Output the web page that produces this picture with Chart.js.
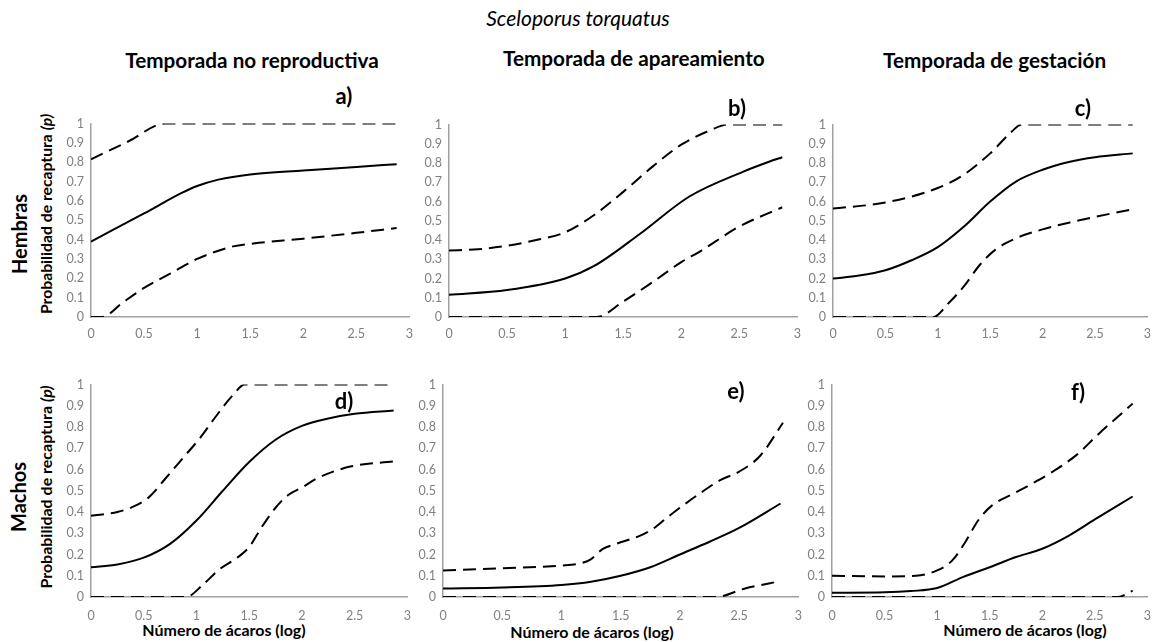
<!DOCTYPE html>
<html><head><meta charset="utf-8">
<script src="https://cdn.jsdelivr.net/npm/chart.js@4"></script>
<style>
html,body{margin:0;padding:0;background:#fff;}
#wrap{position:relative;width:1152px;height:642px;overflow:hidden;font-family:Lato,'Open Sans',sans-serif;color:#000;}
.t{position:absolute;white-space:nowrap;transform:translate(-50%,-50%);line-height:1;}
.l{transform:translate(0,-50%);}
.b{font-weight:bold;}
.r{transform:translate(-50%,-50%) rotate(-90deg);}
canvas{position:absolute;}
</style></head><body><div id="wrap">
<div class="t fit" data-w="183" style="left:578px;top:18px;font-size:17px;font-style:italic;">Sceloporus torquatus</div>
<div class="t b fit" id="colA" data-w="254" style="left:252px;top:60px;font-size:19px;">Temporada no reproductiva</div>
<div class="t l b col" style="left:503px;top:58px;font-size:19px;">Temporada de apareamiento</div>
<div class="t l b col" style="left:883px;top:60px;font-size:19px;">Temporada de gestación</div>
<div class="t b r fit" id="rowA" data-w="80" style="left:19px;top:234px;font-size:18px;">Hembras</div>
<div class="t b r row" style="left:18px;top:497px;font-size:18px;">Machos</div>
<div class="t b r fit" data-w="200" style="left:46px;top:214px;font-size:13px;">Probabilidad de recaptura <i>(p)</i></div>
<div class="t b r fit" data-w="203" style="left:46px;top:487px;font-size:13px;">Probabilidad de recaptura <i>(p)</i></div>
<div class="t b fit" data-w="163" style="left:224px;top:630px;font-size:14.5px;">Número de ácaros (log)</div>
<div class="t b fit" data-w="163" style="left:592px;top:632px;font-size:14.5px;">Número de ácaros (log)</div>
<div class="t b fit" data-w="163" style="left:1025px;top:630px;font-size:14.5px;">Número de ácaros (log)</div>
</div>
<script>
// ---- tick labels ----
const xTicks = [0, 0.5, 1, 1.5, 2, 2.5, 3];
const xTickLabels = ['0', '0.5', '1', '1.5', '2', '2.5', '3'];
const yTicks = [0, 0.1, 0.2, 0.3, 0.4, 0.5, 0.6, 0.7, 0.8, 0.9, 1];
const yTickLabels = ['0', '0.1', '0.2', '0.3', '0.4', '0.5', '0.6', '0.7', '0.8', '0.9', '1'];
const panelLetters = ['a)', 'b)', 'c)', 'd)', 'e)', 'f)'];

// ---- series: [x, p] pairs (x = log mite count) ----
// a) Hembras, temporada no reproductiva
const aFit   = [[0,0.39],[0.5,0.535],[0.85,0.64],[1,0.677],[1.2,0.71],[1.5,0.737],[2,0.757],[2.5,0.775],[2.88,0.79]];
const aUpper = [[0,0.815],[0.35,0.907],[0.7,1],[2.88,1]];
const aLower = [[0,0],[0.1,0],[0.3,0.075],[0.5,0.15],[0.75,0.225],[1,0.3],[1.34,0.365],[1.53,0.38],[2,0.405],[2.5,0.435],[2.88,0.46]];
// b) Hembras, temporada de apareamiento
const bFit   = [[0,0.115],[0.5,0.14],[1,0.2],[1.25,0.265],[1.64,0.43],[2.07,0.626],[2.53,0.754],[2.75,0.805],[2.87,0.83]];
const bUpper = [[0,0.345],[0.25,0.352],[0.5,0.37],[0.75,0.4],[1,0.44],[1.25,0.53],[1.5,0.65],[1.75,0.78],[2,0.895],[2.25,0.97],[2.4,1],[2.87,1]];
const bLower = [[0,0],[1.27,0],[1.5,0.08],[1.75,0.18],[2,0.285],[2.16,0.34],[2.5,0.47],[2.87,0.57]];
// c) Hembras, temporada de gestación
const cFit   = [[0,0.2],[0.25,0.215],[0.5,0.243],[0.75,0.295],[1,0.363],[1.25,0.47],[1.5,0.6],[1.75,0.705],[2,0.765],[2.25,0.805],[2.5,0.83],[2.86,0.85]];
const cUpper = [[0,0.563],[0.5,0.595],[1,0.67],[1.25,0.74],[1.5,0.85],[1.7,0.96],[1.8,1],[2.86,1]];
const cLower = [[0,0],[0.96,0],[1.1,0.07],[1.25,0.16],[1.4,0.27],[1.55,0.35],[1.75,0.41],[2,0.455],[2.25,0.49],[2.5,0.52],[2.86,0.56]];
// d) Machos, temporada no reproductiva
const dFit   = [[0,0.14],[0.25,0.153],[0.5,0.185],[0.75,0.25],[1,0.36],[1.25,0.5],[1.5,0.635],[1.75,0.74],[2,0.805],[2.25,0.84],[2.5,0.862],[2.87,0.878]];
const dUpper = [[0,0.382],[0.25,0.4],[0.4,0.425],[0.55,0.47],[0.71,0.56],[0.87,0.653],[1.03,0.746],[1.18,0.847],[1.34,0.947],[1.46,1],[2.87,1]];
const dLower = [[0,0],[0.9,0],[1.06,0.057],[1.21,0.127],[1.4,0.19],[1.5,0.235],[1.62,0.33],[1.75,0.42],[1.87,0.48],[2,0.515],[2.15,0.56],[2.47,0.615],[2.87,0.638]];
// e) Machos, temporada de apareamiento
const eFit   = [[0,0.04],[0.5,0.045],[1,0.057],[1.25,0.072],[1.5,0.1],[1.75,0.14],[2,0.2],[2.25,0.26],[2.5,0.325],[2.85,0.44]];
const eUpper = [[0,0.125],[0.5,0.135],[1,0.148],[1.15,0.157],[1.24,0.175],[1.35,0.226],[1.46,0.25],[1.66,0.288],[1.77,0.32],[1.89,0.373],[2,0.42],[2.17,0.488],[2.34,0.55],[2.5,0.59],[2.68,0.666],[2.87,0.82]];
const eLower = [[0,0],[2.3,0],[2.55,0.04],[2.85,0.075]];
// f) Machos, temporada de gestación
const fFit   = [[0,0.02],[0.5,0.022],[0.75,0.028],[1,0.042],[1.25,0.095],[1.5,0.14],[1.75,0.188],[2,0.227],[2.25,0.288],[2.5,0.365],[2.86,0.473]];
const fUpper = [[0,0.1],[0.5,0.097],[0.8,0.1],[1,0.125],[1.14,0.17],[1.27,0.26],[1.39,0.36],[1.52,0.43],[1.7,0.48],[1.89,0.53],[2.1,0.59],[2.33,0.67],[2.52,0.76],[2.86,0.91]];
const fLower = [[0,0],[2.72,0],[2.86,0.03]];

// ---- layout (plot areas in page pixels) ----
const panels = [
  {area:{l:91, r:410, t:121, b:317}, series:[aFit,aUpper,aLower], xpad:9,  lab:[344,96]},
  {area:{l:449,r:798, t:122, b:317}, series:[bFit,bUpper,bLower], xpad:9,  lab:[737,108]},
  {area:{l:833,r:1148,t:122, b:317}, series:[cFit,cUpper,cLower], xpad:9,  lab:[1083,108]},
  {area:{l:91, r:410, t:382, b:597}, series:[dFit,dUpper,dLower], xpad:11, lab:[344,401]},
  {area:{l:443,r:801, t:382, b:597}, series:[eFit,eUpper,eLower], xpad:11, lab:[736,391]},
  {area:{l:832,r:1150,t:382, b:597}, series:[fFit,fUpper,fLower], xpad:11, lab:[1078,392]}
];
const wrap = document.getElementById('wrap');
const YW = 50, XH = 40, PT = 12, PR = 12;
const tickFont = {family:'Lato', size:12.5};

panels.forEach((p, i) => {
  const a = p.area;
  const cv = document.createElement('canvas');
  const W = a.r - a.l + YW + PR, H = a.b - a.t + PT + XH;
  cv.width = W; cv.height = H;
  cv.style.width = W + 'px'; cv.style.height = H + 'px';
  cv.style.left = (a.l - YW) + 'px'; cv.style.top = (a.t - PT) + 'px';
  wrap.appendChild(cv);
  const ds = p.series.map((s, k) => ({
    data: s.map(q => ({x:q[0], y:q[1]})),
    borderColor:'#000', borderWidth: 2,
    borderDash: k === 0 ? [] : [13, 7],
    pointRadius:0, fill:false, cubicInterpolationMode:'monotone'
  }));
  new Chart(cv, {
    type:'line',
    data:{datasets:ds},
    options:{
      responsive:false, animation:false, events:[],
      layout:{padding:{top:PT, right:PR, left:0, bottom:0}},
      plugins:{legend:{display:false}, tooltip:{enabled:false}},
      scales:{
        x:{type:'linear', min:0, max:3,
           grid:{display:false, drawTicks:false},
           border:{display:true, color:'#a0a0a0', width:1.5},
           afterFit:s => { s.height = XH; },
           afterBuildTicks:s => { s.ticks = xTicks.map(v => ({value:v})); },
           ticks:{padding:p.xpad, color:'#808080', font:tickFont, autoSkip:false, maxRotation:0,
                  callback:(v, idx) => xTickLabels[idx]}},
        y:{type:'linear', min:0, max:1,
           grid:{display:false, drawTicks:false},
           border:{display:true, color:'#a0a0a0', width:1.5},
           afterFit:s => { s.width = YW; },
           afterBuildTicks:s => { s.ticks = yTicks.map(v => ({value:v})); },
           ticks:{padding:7, color:'#808080', font:tickFont, autoSkip:false,
                  callback:(v, idx) => yTickLabels[idx]}}
      }
    }
  });
  const d = document.createElement('div');
  d.className = 't b';
  d.style.left = p.lab[0] + 'px'; d.style.top = p.lab[1] + 'px'; d.style.fontSize = '22px';
  d.textContent = panelLetters[i];
  wrap.appendChild(d);
});

// fit text widths to the reference
function fitTexts(){
  document.querySelectorAll('.fit').forEach(el => {
    const target = +el.dataset.w;
    const fs = parseFloat(el.style.fontSize);
    const w = el.offsetWidth;
    if (w > 0) el.style.fontSize = (fs * target / w).toFixed(2) + 'px';
  });
  const colFs = document.getElementById('colA').style.fontSize;
  document.querySelectorAll('.col').forEach(el => { el.style.fontSize = colFs; });
  const rowFs = document.getElementById('rowA').style.fontSize;
  document.querySelectorAll('.row').forEach(el => { el.style.fontSize = rowFs; });
}
fitTexts();
</script>
</body></html>
